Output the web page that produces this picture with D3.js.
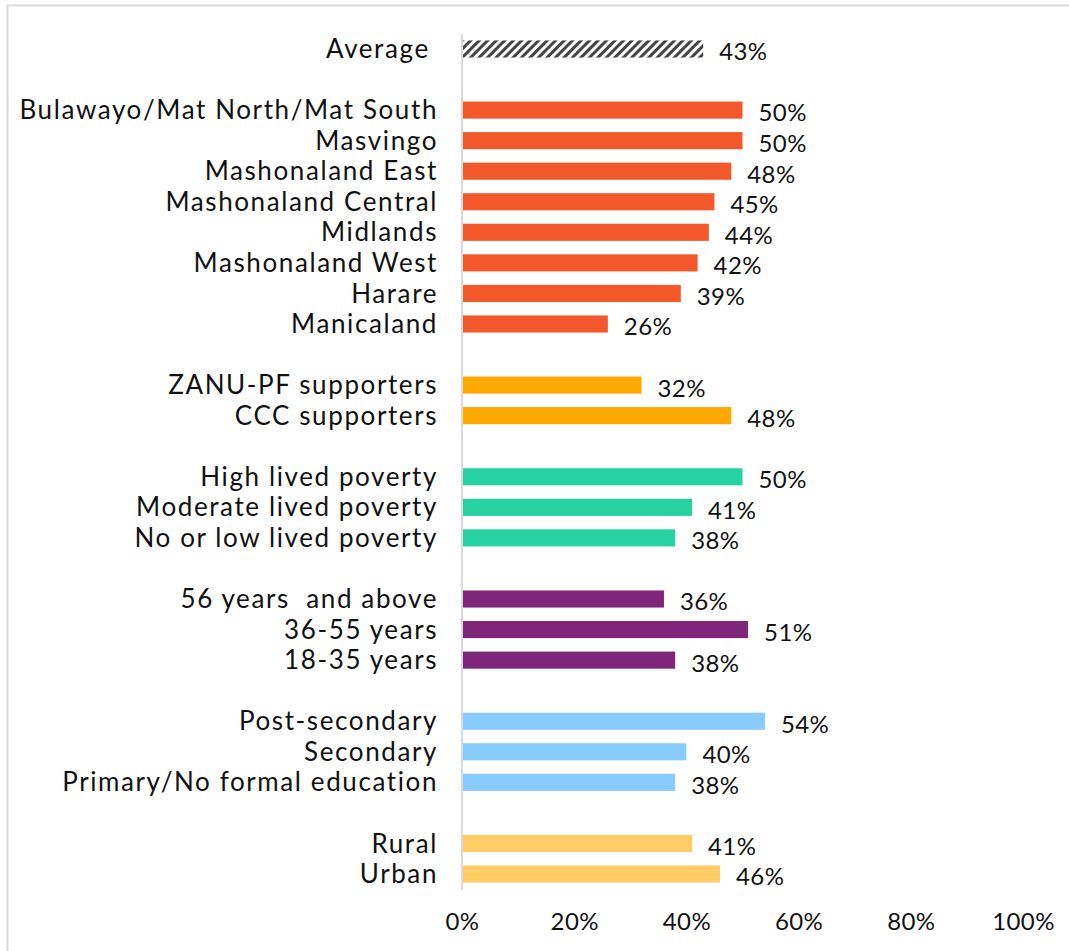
<!DOCTYPE html>
<html>
<head>
<meta charset="utf-8">
<script src="https://cdn.jsdelivr.net/npm/d3@7"></script>
<style>
  html, body { margin: 0; padding: 0; background: #fff; }
  svg text { font-family: "Lato", "Open Sans", sans-serif; fill: #111; }
</style>
</head>
<body>
<svg id="chart" width="1069" height="951"></svg>
<script>
// Share of respondents, by subgroup (percent)
const averageLabel = ["Average "];
const averageValue = [43];

const regions = ["Bulawayo/Mat North/Mat South", "Masvingo", "Mashonaland East",
  "Mashonaland Central", "Midlands", "Mashonaland West", "Harare", "Manicaland"];
const regionValues = [50, 50, 48, 45, 44, 42, 39, 26];

const parties = ["ZANU-PF supporters", "CCC supporters"];
const partyValues = [32, 48];

const poverty = ["High lived poverty", "Moderate lived poverty", "No or low lived poverty"];
const povertyValues = [50, 41, 38];

const ages = ["56 years  and above", "36-55 years", "18-35 years"];
const ageValues = [36, 51, 38];

const education = ["Post-secondary", "Secondary", "Primary/No formal education"];
const educationValues = [54, 40, 38];

const locations = ["Rural", "Urban"];
const locationValues = [41, 46];

const tickValues = [0, 20, 40, 60, 80, 100];

const groups = [
  { names: averageLabel, values: averageValue, color: "url(#hatch)" },
  { names: regions, values: regionValues, color: "#F2582A" },
  { names: parties, values: partyValues, color: "#FFA800" },
  { names: poverty, values: povertyValues, color: "#26D3A0" },
  { names: ages, values: ageValues, color: "#80267A" },
  { names: education, values: educationValues, color: "#88CCFF" },
  { names: locations, values: locationValues, color: "#FFCC66" }
];

// Flatten groups into rows, inserting an empty slot between groups
const rows = [];
const slots = [];
groups.forEach((g, gi) => {
  if (gi > 0) slots.push("gap-" + gi);
  g.names.forEach((n, i) => {
    const key = "row-" + slots.length;
    slots.push(key);
    rows.push({ key, name: n, value: g.values[i], color: g.color });
  });
});

const svg = d3.select("#chart");

// Outer frame
svg.append("rect")
  .attr("x", 7.5).attr("y", 5.5)
  .attr("width", 1069).attr("height", 951)
  .attr("fill", "none").attr("stroke", "#d9d9d9").attr("stroke-width", 2);

// Diagonal hatch for the average bar
const defs = svg.append("defs");
const pat = defs.append("pattern")
  .attr("id", "hatch")
  .attr("patternUnits", "userSpaceOnUse")
  .attr("width", 6).attr("height", 6)
  .attr("patternTransform", "rotate(45)");
pat.append("rect").attr("width", 6).attr("height", 6).attr("fill", "#ffffff");
pat.append("rect").attr("width", 3).attr("height", 6).attr("fill", "#444444");

const x = d3.scaleLinear().domain([0, 100]).range([462, 1023]);
const y = d3.scaleBand()
  .domain(slots)
  .range([33.7, 889.3])
  .paddingInner(0.44)
  .paddingOuter(0.22);

// Bars
svg.append("g").selectAll("rect")
  .data(rows)
  .join("rect")
  .attr("x", x(0))
  .attr("y", d => y(d.key))
  .attr("width", d => x(d.value) - x(0))
  .attr("height", y.bandwidth())
  .attr("fill", d => d.color);

// Vertical baseline
svg.append("line")
  .attr("x1", x(0)).attr("x2", x(0))
  .attr("y1", 34).attr("y2", 890)
  .attr("stroke", "#d9d9d9").attr("stroke-width", 2);

// Category labels
svg.append("g").selectAll("text")
  .data(rows)
  .join("text")
  .attr("x", 438)
  .attr("y", d => y(d.key) + y.bandwidth() / 2)
  .attr("dy", "0.35em")
  .attr("text-anchor", "end")
  .style("font-size", "26px")
  .style("letter-spacing", "1.6px")
  .style("white-space", "pre")
  .text(d => d.name);

// Value labels
svg.append("g").selectAll("text")
  .data(rows)
  .join("text")
  .attr("x", d => x(d.value) + 16)
  .attr("y", d => y(d.key) + y.bandwidth() / 2 + 3)
  .attr("dy", "0.35em")
  .style("font-size", "24px")
  .style("letter-spacing", "0.4px")
  .text(d => d.value + "%");

// Bottom axis
const axis = d3.axisBottom(x)
  .tickValues(tickValues)
  .tickFormat(d => d + "%")
  .tickSize(0)
  .tickPadding(0);
const ax = svg.append("g")
  .attr("transform", "translate(0,913)")
  .call(axis);
ax.select(".domain").remove();
ax.selectAll("text")
  .attr("dy", "0.7em")
  .style("font-size", "24px")
  .style("letter-spacing", "0.4px")
  .style("font-family", "Lato, 'Open Sans', sans-serif")
  .attr("fill", "#111");
</script>
</body>
</html>
